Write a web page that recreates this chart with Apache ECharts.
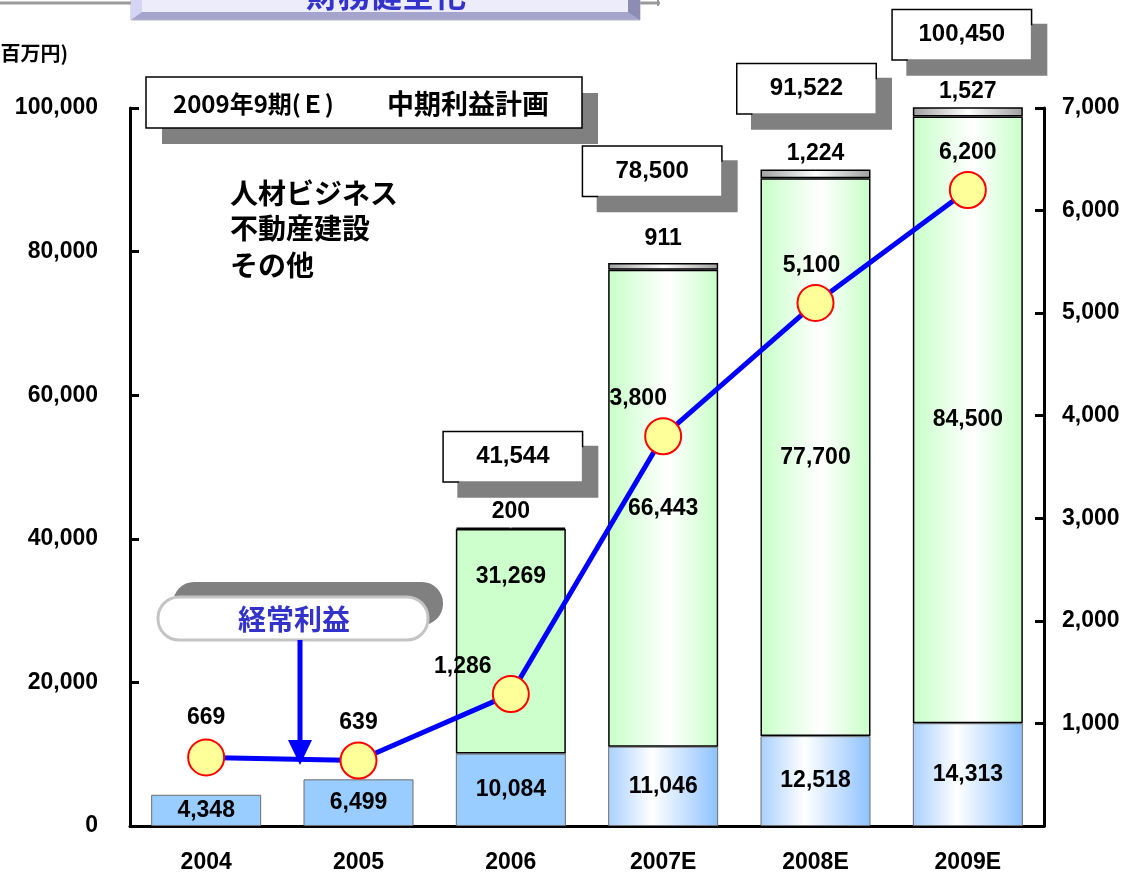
<!DOCTYPE html>
<html>
<head>
<meta charset="utf-8">
<script src="https://cdn.jsdelivr.net/npm/echarts@6/dist/echarts.min.js"></script>
<style>
html,body{margin:0;padding:0;background:#fff;}
#c{width:1129px;height:876px;}
</style>
</head>
<body>
<div id="c"></div>
<script>
// ---- data ----
const categories = ['2004', '2005', '2006', '2007E', '2008E', '2009E'];
const jinzai   = [4348, 6499, 10084, 11046, 12518, 14313];      // 人材ビジネス
const fudosan  = [null, null, 31269, 66443, 77700, 84500];      // 不動産建設
const sonota   = [null, null, 200, 911, 1224, 1527];            // その他
const totals   = [null, null, 41544, 78500, 91522, 100450];     // 合計
const keijo    = [669, 639, 1286, 3800, 5100, 6200];            // 経常利益
const leftAxis  = { min: 0, max: 100000, interval: 20000 };
const rightAxis = { min: 0, max: 7000, interval: 1000 };
const legendNames = ['人材ビジネス', '不動産建設', 'その他'];

// ---- styles ----
const LATIN = '"Liberation Sans", Arial, sans-serif';
const CJK = '"Noto Sans CJK JP", "Liberation Sans", sans-serif';
const fmt = v => Number(v).toLocaleString('en-US');
const grad = stops => ({ type: 'linear', x: 0, y: 0, x2: 1, y2: 0,
  colorStops: stops.map(s => ({ offset: s[0], color: s[1] })) });
const blueFlat = '#99CCFF';
const blueGrad = grad([[0, '#A8D0FF'], [0.4, '#FFFFFF'], [1, '#8EC2FF']]);
const greenFlat = '#CCFFCC';
const greenGrad = grad([[0, '#C8FFC8'], [0.55, '#FFFFFF'], [1, '#C8FFC8']]);
const grayGrad = grad([[0, '#A0A0A0'], [0.5, '#FFFFFF'], [1, '#A0A0A0']]);

const greenLabelOffset = [[0,0],[0,0],[0,-65],[0,0],[0,0],[0,0]];
const grayLabelOffset = [[0,0],[0,0],[0,0],[0,-9],[0,0],[0,0]];
const totalLabelOffset = [[0,0],[0,0],[2,-71],[-11,-91],[-9,-80],[-6,-70]];
const lineLabelOffset = [[0,-40],[0,-38],[-48,-27],[-25,-38],[-4,-37],[0,-37]];

const chart = echarts.init(document.getElementById('c'), null, { renderer: 'canvas' });

const dataLabel = { fontSize: 23, fontWeight: 'bold', color: '#000', fontFamily: LATIN };

const option = {
  backgroundColor: '#fff',
  animation: false,
  textStyle: { fontFamily: LATIN },
  grid: { left: 130, right: 85, top: 108, bottom: 50 },
  xAxis: {
    type: 'category',
    data: categories,
    boundaryGap: true,
    axisLine: { lineStyle: { color: '#000', width: 3 } },
    axisTick: { inside: true, length: 9, lineStyle: { color: '#000', width: 3 } },
    axisLabel: { margin: 25, fontSize: 23, fontWeight: 'bold', color: '#000', fontFamily: LATIN }
  },
  yAxis: [
    {
      type: 'value', min: leftAxis.min, max: leftAxis.max, interval: leftAxis.interval,
      axisLine: { show: true, lineStyle: { color: '#000', width: 3 } },
      axisTick: { show: true, inside: true, length: 9, lineStyle: { color: '#000', width: 3 } },
      splitLine: { show: false },
      axisLabel: { margin: 32, fontSize: 23, fontWeight: 'bold', color: '#000', fontFamily: LATIN,
        formatter: v => fmt(v) }
    },
    {
      type: 'value', min: rightAxis.min, max: rightAxis.max, interval: rightAxis.interval,
      position: 'right',
      axisLine: { show: true, lineStyle: { color: '#000', width: 3 } },
      axisTick: { show: true, inside: true, length: 9, lineStyle: { color: '#000', width: 3 } },
      splitLine: { show: false },
      axisLabel: { margin: 18, fontSize: 23, fontWeight: 'bold', color: '#000', fontFamily: LATIN,
        formatter: v => v === 0 ? '' : fmt(v) }
    }
  ],
  series: [
    {
      name: legendNames[0], type: 'bar', stack: 'total', barWidth: 110, z: 2,
      data: jinzai.map((v, i) => ({
        value: v,
        itemStyle: { color: i < 3 ? blueFlat : blueGrad, borderColor: '#6E6E6E', borderWidth: 1 }
      })),
      label: Object.assign({ show: true, position: 'inside', formatter: p => fmt(p.value) }, dataLabel)
    },
    {
      name: legendNames[1], type: 'bar', stack: 'total', barWidth: 110, z: 2,
      data: fudosan.map((v, i) => ({
        value: v == null ? '-' : v,
        itemStyle: { color: i < 3 ? greenFlat : greenGrad, borderColor: '#000', borderWidth: 1.5 },
        label: { offset: greenLabelOffset[i] }
      })),
      label: Object.assign({ show: true, position: 'inside', formatter: p => fmt(p.value) }, dataLabel)
    },
    {
      name: legendNames[2], type: 'bar', stack: 'total', barWidth: 110, z: 2,
      data: sonota.map((v, i) => ({
        value: v == null ? '-' : v,
        itemStyle: { color: grayGrad, borderColor: '#000', borderWidth: 1.5 },
        label: { offset: grayLabelOffset[i] }
      })),
      label: Object.assign({ show: true, position: 'top', distance: 4, formatter: p => fmt(p.value) }, dataLabel)
    },
    {
      name: '合計', type: 'scatter', yAxisIndex: 0, symbol: 'rect', symbolSize: 1, z: 5,
      clip: false, silent: true,
      itemStyle: { color: '#fff', opacity: 1 },
      data: totals.map((v, i) => ({
        value: v == null ? '-' : v,
        label: { offset: totalLabelOffset[i] }
      })),
      label: {
        show: true, position: 'inside', fontSize: 24, fontWeight: 'bold', color: '#000', fontFamily: LATIN,
        opacity: 1,
        formatter: p => fmt(p.value),
        backgroundColor: '#fff', borderColor: '#000', borderWidth: 1.5,
        width: 138, height: 49, lineHeight: 49, align: 'center', verticalAlign: 'middle',
        shadowColor: '#808080', shadowOffsetX: 15, shadowOffsetY: 15, shadowBlur: 0
      }
    },
    {
      name: '経常利益', type: 'line', yAxisIndex: 1, z: 10,
      symbol: 'circle', symbolSize: 36,
      lineStyle: { color: '#0000FF', width: 5 },
      itemStyle: { color: '#FFFF99', borderColor: '#FF0000', borderWidth: 2 },
      data: keijo.map((v, i) => ({ value: v, label: { offset: lineLabelOffset[i] } })),
      label: Object.assign({ show: true, position: 'inside', formatter: p => fmt(p.value) }, dataLabel)
    }
  ],
  graphic: [
    // top title box (cut off)
    { type: 'line', shape: { x1: 0, y1: 3, x2: 134, y2: 3 }, style: { stroke: '#9A9A9A', lineWidth: 3 } },
    { type: 'line', shape: { x1: 638, y1: 3, x2: 660, y2: 3 }, style: { stroke: '#9A9A9A', lineWidth: 3 } },
    { type: 'line', shape: { x1: 658, y1: 0, x2: 658, y2: 6 }, style: { stroke: '#9A9A9A', lineWidth: 2 } },
    { type: 'rect', shape: { x: 131, y: -40, width: 509, height: 60 },
      style: { fill: '#A4A4CC', stroke: '#B8B8C8', lineWidth: 1 } },
    { type: 'polygon', shape: { points: [[131, -40], [142, -40], [142, 12], [131, 20]] },
      style: { fill: '#D4D4F4' } },
    { type: 'polygon', shape: { points: [[628, -40], [640, -40], [640, 20], [628, 12]] },
      style: { fill: '#8C8CB4' } },
    { type: 'rect', shape: { x: 142, y: -40, width: 486, height: 52 },
      style: { fill: '#ECECFA' } },
    { type: 'text', x: 386, y: 11,
      style: { text: '財務健全化', font: 'bold 32px ' + CJK, fill: '#3333CC',
        textAlign: 'center', textVerticalAlign: 'bottom' } },
    // unit
    { type: 'text', x: 68, y: 53,
      style: { text: '(百万円)', font: 'bold 20px ' + CJK, fill: '#000',
        textAlign: 'right', textVerticalAlign: 'middle' } },
    // plan box
    { type: 'rect', shape: { x: 162, y: 93, width: 436, height: 51 }, style: { fill: '#808080' } },
    { type: 'rect', shape: { x: 146, y: 77, width: 436, height: 51 },
      style: { fill: '#fff', stroke: '#000', lineWidth: 1.5 } },
    { type: 'text', x: 173, y: 104,
      style: { text: '2009年9期(Ｅ)', font: 'bold 24px ' + CJK, fill: '#000',
        textVerticalAlign: 'middle', textShadowColor: '#999', textShadowOffsetX: 1, textShadowOffsetY: 1 } },
    { type: 'text', x: 387, y: 104,
      style: { text: '中期利益計画', font: 'bold 27px ' + CJK, fill: '#000',
        textVerticalAlign: 'middle', textShadowColor: '#999', textShadowOffsetX: 1, textShadowOffsetY: 1 } },
    // legend text
    { type: 'text', x: 230, y: 193,
      style: { text: legendNames[0], font: 'bold 28px ' + CJK, fill: '#000', textVerticalAlign: 'middle' } },
    { type: 'text', x: 230, y: 228,
      style: { text: legendNames[1], font: 'bold 28px ' + CJK, fill: '#000', textVerticalAlign: 'middle' } },
    { type: 'text', x: 230, y: 265,
      style: { text: legendNames[2], font: 'bold 28px ' + CJK, fill: '#000', textVerticalAlign: 'middle' } },
    // 経常利益 callout
    { type: 'rect', shape: { x: 173, y: 582, width: 270, height: 43, r: 21 }, style: { fill: '#808080' } },
    { type: 'rect', shape: { x: 158, y: 597, width: 270, height: 43, r: 21 },
      style: { fill: '#fff', stroke: '#C4C4C4', lineWidth: 3 } },
    { type: 'text', x: 294, y: 619,
      style: { text: '経常利益', font: 'bold 28px ' + CJK, fill: '#3333CC',
        textAlign: 'center', textVerticalAlign: 'middle',
        textShadowColor: '#B0B0B0', textShadowOffsetX: 1, textShadowOffsetY: 1 } },
    { type: 'line', z: 20, shape: { x1: 300, y1: 640, x2: 300, y2: 745 }, style: { stroke: '#0000FF', lineWidth: 5 } },
    { type: 'polygon', z: 20, shape: { points: [[288, 740], [312, 740], [300, 765]] }, style: { fill: '#0000FF' } }
  ]
};
chart.setOption(option);
</script>
</body>
</html>
